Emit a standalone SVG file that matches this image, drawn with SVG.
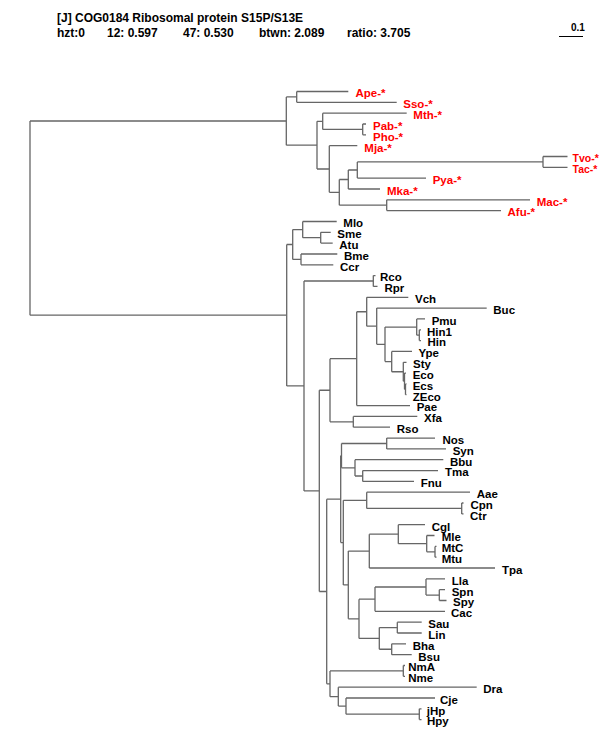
<svg xmlns="http://www.w3.org/2000/svg" width="600" height="750" viewBox="0 0 600 750">
<style>
.br{fill:none;stroke:#666;stroke-width:1.3}
.lf{font-family:"Liberation Sans",Arial,Helvetica,sans-serif;font-weight:bold;font-size:11.5px;fill:#000}
.ar{fill:#f00}
.sm{font-size:10.5px}
.hd{font-family:"Liberation Sans",Arial,Helvetica,sans-serif;font-weight:bold;font-size:12px;fill:#000}
</style>
<rect width="600" height="750" fill="#fff"/>
<g id="header">
<text class="hd" x="57" y="21.5">[J] COG0184 Ribosomal protein S15P/S13E</text>
<text class="hd" y="37"><tspan x="57">hzt:0</tspan><tspan x="107">12: 0.597</tspan><tspan x="183">47: 0.530</tspan><tspan x="259">btwn: 2.089</tspan><tspan x="347">ratio: 3.705</tspan></text>
</g>
<g id="scale">
<path d="M559 36.5H583" fill="none" stroke="#000" stroke-width="1"/>
<text x="571" y="30.5" style="font-family:'Liberation Sans',Arial,sans-serif;font-weight:bold;font-size:10px">0.1</text>
</g>
<g id="connectors" class="br">
<path d="M30 121V315.2M30 121H286.3M30 315.2H286.7"/>
<path d="M286.3 96.9V145.2M286.3 96.9H296.7M286.3 145.2H317"/>
<path d="M296.7 91.5V102.3M296.7 91.5H348.3M296.7 102.3H396.7"/>
<path d="M317 121.3V169M317 121.3H322.7M317 169H329.3"/>
<path d="M322.7 113.2V129.4M322.7 113.2H406.7M322.7 129.4H362.7"/>
<path d="M362.7 124V134.8M362.7 124H366M362.7 134.8H366"/>
<path d="M329.3 145.7V192.35M329.3 145.7H357.3M329.3 192.35H339.3"/>
<path d="M339.3 179.5V205.2M339.3 179.5H348.3M339.3 205.2H386.7"/>
<path d="M348.3 170V189M348.3 170H357.3M348.3 189H380"/>
<path d="M357.3 161.9V178.1M357.3 161.9H543M357.3 178.1H426"/>
<path d="M543 156.5V167.3M543 156.5H567.5M543 167.3H567.5"/>
<path d="M386.7 199.8V210.6M386.7 199.8H530M386.7 210.6H501"/>
<path d="M286.7 244.5V385.95M286.7 244.5H292.7M286.7 385.95H304"/>
<path d="M292.7 229.6V259.4M292.7 229.6H302.7M292.7 259.4H301"/>
<path d="M302.7 221.5V237.7M302.7 221.5H336.7M302.7 237.7H320.7"/>
<path d="M320.7 232.3V243.1M320.7 232.3H330.7M320.7 243.1H332.7"/>
<path d="M301 254V264.8M301 254H337.3M301 264.8H333.3"/>
<path d="M304 281V490.9M304 281H373.3M304 490.9H319.3"/>
<path d="M373.3 275.6V286.4M373.3 275.6H375.5M373.3 286.4H377.5"/>
<path d="M319.3 390.25V591.5M319.3 390.25H330M319.3 591.5H326.7"/>
<path d="M330 358.7V421.8M330 358.7H356.7M330 421.8H353.3"/>
<path d="M356.7 311.75V405.6M356.7 311.75H366.7M356.7 405.6H410"/>
<path d="M366.7 297.3V326.2M366.7 297.3H408.3M366.7 326.2H376.7"/>
<path d="M376.7 308.1V344.3M376.7 308.1H486.7M376.7 344.3H385"/>
<path d="M385 327.05V361.6M385 327.05H416.7M385 361.6H391.7"/>
<path d="M416.7 318.9V335.2M416.7 318.9H425M416.7 335.2H419.3"/>
<path d="M419.3 329.8V340.6M419.3 329.8H421M419.3 340.6H421"/>
<path d="M391.7 351.4V371.75M391.7 351.4H412M391.7 371.75H403.3"/>
<path d="M403.3 362.3V381.2M403.3 362.3H406.5M403.3 381.2H404.5"/>
<path d="M404.5 373.1V389.3M404.5 373.1H406M404.5 389.3H405.5"/>
<path d="M405.5 383.9V394.7M405.5 383.9H406.5M405.5 394.7H406.5"/>
<path d="M353.3 416.4V427.2M353.3 416.4H417.3M353.3 427.2H390"/>
<path d="M326.7 499.15V683.8M326.7 499.15H340.7M326.7 683.8H330"/>
<path d="M340.7 455.7V542.6M340.7 455.7H341.5M340.7 542.6H343.3"/>
<path d="M341.5 443.5V467.85M341.5 443.5H386.7M341.5 467.85H355"/>
<path d="M386.7 438.1V448.9M386.7 438.1H435M386.7 448.9H446"/>
<path d="M355 459.7V476M355 459.7H443.3M355 476H362.7"/>
<path d="M362.7 470.6V481.4M362.7 470.6H438M362.7 481.4H414"/>
<path d="M343.3 500.3V584.95M343.3 500.3H366.7M343.3 584.95H348.3"/>
<path d="M366.7 492.2V508.45M366.7 492.2H470M366.7 508.45H461.7"/>
<path d="M461.7 503V513.9M461.7 503H463.5M461.7 513.9H463.5"/>
<path d="M348.3 551.1V618.8M348.3 551.1H369.3M348.3 618.8H359"/>
<path d="M369.3 534.2V568M369.3 534.2H398.3M369.3 568H495"/>
<path d="M398.3 524.7V543.65M398.3 524.7H425M398.3 543.65H426.7"/>
<path d="M426.7 535.5V551.8M426.7 535.5H434.5M426.7 551.8H435"/>
<path d="M435 546.4V557.2M435 546.4H436.5M435 557.2H436.5"/>
<path d="M359 599.15V638.4M359 599.15H375M359 638.4H379.3"/>
<path d="M375 587V611.3M375 587H426M375 611.3H445"/>
<path d="M426 578.9V595.1M426 578.9H445M426 595.1H439.3"/>
<path d="M439.3 589.7V600.5M439.3 589.7H445M439.3 600.5H446.5"/>
<path d="M379.3 627.6V649.25M379.3 627.6H397.3M379.3 649.25H391.7"/>
<path d="M397.3 622.2V633M397.3 622.2H421.7M397.3 633H421.7"/>
<path d="M391.7 643.8V654.7M391.7 643.8H406M391.7 654.7H411.7"/>
<path d="M330 670.9V696.65M330 670.9H403.3M330 696.65H338.3"/>
<path d="M403.3 665.5V676.3M403.3 665.5H405M403.3 676.3H405"/>
<path d="M338.3 687.2V706.1M338.3 687.2H476.7M338.3 706.1H346"/>
<path d="M346 698V714.2M346 698H435M346 714.2H419.3"/>
<path d="M419.3 708.8V719.6M419.3 708.8H421.5M419.3 719.6H421.5"/>
</g>
<g id="Ape"><text class="lf ar" x="355.5" y="97.3">Ape-*</text></g>
<g id="Sso"><text class="lf ar" x="403.3" y="108.1">Sso-*</text></g>
<g id="Mth"><text class="lf ar" x="413.3" y="119">Mth-*</text></g>
<g id="Pab"><text class="lf ar" x="373" y="129.8">Pab-*</text></g>
<g id="Pho"><text class="lf ar" x="373" y="140.6">Pho-*</text></g>
<g id="Mja"><text class="lf ar" x="364.3" y="151.5">Mja-*</text></g>
<g id="Tvo"><text class="lf ar sm" x="572.5" y="162">Tvo-*</text></g>
<g id="Tac"><text class="lf ar sm" x="572.5" y="172.8">Tac-*</text></g>
<g id="Pya"><text class="lf ar" x="432.7" y="183.9">Pya-*</text></g>
<g id="Mka"><text class="lf ar" x="387" y="194.8">Mka-*</text></g>
<g id="Mac"><text class="lf ar" x="536.7" y="205.6">Mac-*</text></g>
<g id="Afu"><text class="lf ar" x="507.5" y="216.4">Afu-*</text></g>
<g id="Mlo"><text class="lf" x="343.3" y="227.3">Mlo</text></g>
<g id="Sme"><text class="lf" x="337.3" y="238.1">Sme</text></g>
<g id="Atu"><text class="lf" x="339.3" y="248.9">Atu</text></g>
<g id="Bme"><text class="lf" x="344" y="259.8">Bme</text></g>
<g id="Ccr"><text class="lf" x="340" y="270.6">Ccr</text></g>
<g id="Rco"><text class="lf" x="380" y="281.4">Rco</text></g>
<g id="Rpr"><text class="lf" x="384.5" y="292.2">Rpr</text></g>
<g id="Vch"><text class="lf" x="415" y="303.1">Vch</text></g>
<g id="Buc"><text class="lf" x="493.3" y="313.9">Buc</text></g>
<g id="Pmu"><text class="lf" x="431.7" y="324.7">Pmu</text></g>
<g id="Hin1"><text class="lf" x="427" y="335.6">Hin1</text></g>
<g id="Hin"><text class="lf" x="427.5" y="346.4">Hin</text></g>
<g id="Ype"><text class="lf" x="418.5" y="357.2">Ype</text></g>
<g id="Sty"><text class="lf" x="413" y="368.1">Sty</text></g>
<g id="Eco"><text class="lf" x="412.7" y="378.9">Eco</text></g>
<g id="Ecs"><text class="lf" x="412.7" y="389.7">Ecs</text></g>
<g id="ZEco"><text class="lf" x="412.7" y="400.5">ZEco</text></g>
<g id="Pae"><text class="lf" x="416.7" y="411.4">Pae</text></g>
<g id="Xfa"><text class="lf" x="424" y="422.2">Xfa</text></g>
<g id="Rso"><text class="lf" x="396.7" y="433">Rso</text></g>
<g id="Nos"><text class="lf" x="442.5" y="443.9">Nos</text></g>
<g id="Syn"><text class="lf" x="452.7" y="454.7">Syn</text></g>
<g id="Bbu"><text class="lf" x="450" y="465.5">Bbu</text></g>
<g id="Tma"><text class="lf" x="445" y="476.4">Tma</text></g>
<g id="Fnu"><text class="lf" x="420.7" y="487.2">Fnu</text></g>
<g id="Aae"><text class="lf" x="476.7" y="498">Aae</text></g>
<g id="Cpn"><text class="lf" x="470.5" y="508.8">Cpn</text></g>
<g id="Ctr"><text class="lf" x="470" y="519.7">Ctr</text></g>
<g id="Cgl"><text class="lf" x="431.7" y="530.5">Cgl</text></g>
<g id="Mle"><text class="lf" x="441.7" y="541.3">Mle</text></g>
<g id="MtC"><text class="lf" x="441.7" y="552.2">MtC</text></g>
<g id="Mtu"><text class="lf" x="441.7" y="563">Mtu</text></g>
<g id="Tpa"><text class="lf" x="502" y="573.8">Tpa</text></g>
<g id="Lla"><text class="lf" x="451.7" y="584.7">Lla</text></g>
<g id="Spn"><text class="lf" x="451.7" y="595.5">Spn</text></g>
<g id="Spy"><text class="lf" x="453" y="606.3">Spy</text></g>
<g id="Cac"><text class="lf" x="451" y="617.1">Cac</text></g>
<g id="Sau"><text class="lf" x="428.3" y="628">Sau</text></g>
<g id="Lin"><text class="lf" x="428.3" y="638.8">Lin</text></g>
<g id="Bha"><text class="lf" x="412.7" y="649.6">Bha</text></g>
<g id="Bsu"><text class="lf" x="418.3" y="660.5">Bsu</text></g>
<g id="NmA"><text class="lf" x="408.3" y="671.3">NmA</text></g>
<g id="Nme"><text class="lf" x="408.3" y="682.1">Nme</text></g>
<g id="Dra"><text class="lf" x="483.3" y="693">Dra</text></g>
<g id="Cje"><text class="lf" x="440" y="703.8">Cje</text></g>
<g id="jHp"><text class="lf" x="426.7" y="714.6">jHp</text></g>
<g id="Hpy"><text class="lf" x="427" y="725.4">Hpy</text></g>
</svg>
